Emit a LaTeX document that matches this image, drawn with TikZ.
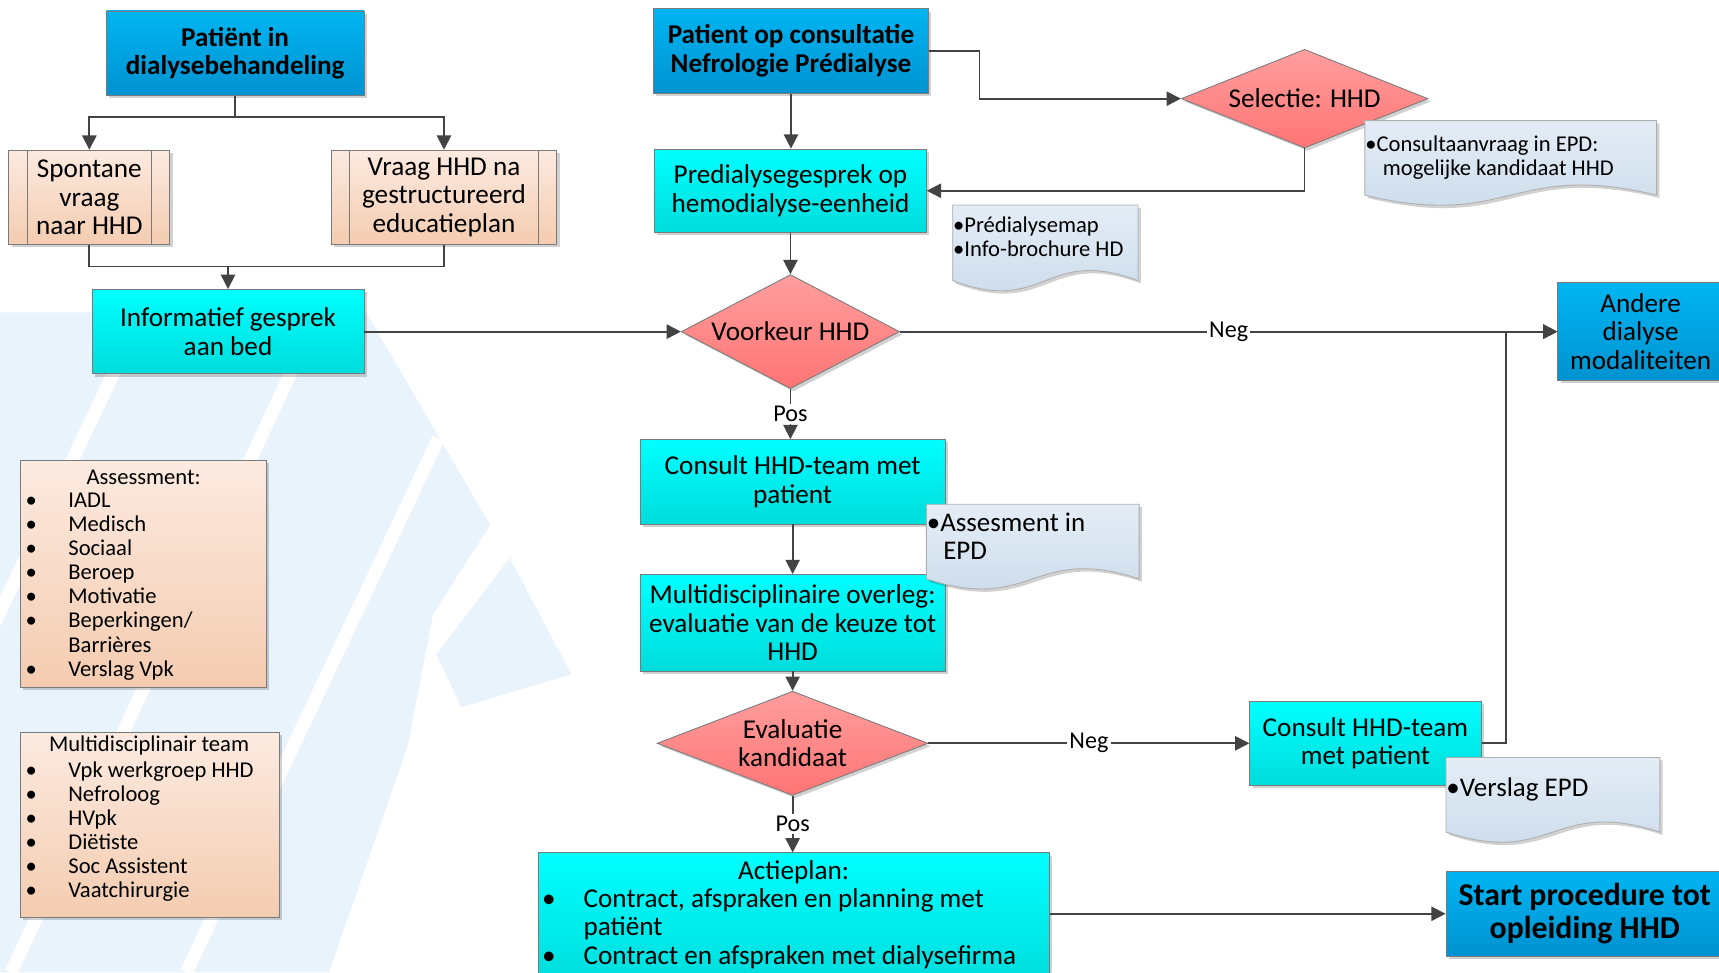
\documentclass[tikz,border=0pt]{standalone}
\usepackage{fontspec}
\setmainfont{Carlito}
\usetikzlibrary{arrows.meta,shapes.geometric,shadows}
\definecolor{bluetop}{HTML}{00B5F2}
\definecolor{bluebot}{HTML}{0092D0}
\definecolor{cyantop}{HTML}{00FFFF}
\definecolor{cyanbot}{HTML}{00DCDC}
\definecolor{peachtop}{HTML}{FCEAE0}
\definecolor{peachbot}{HTML}{F4CCB0}
\definecolor{redtop}{HTML}{FF9E9E}
\definecolor{redbot}{HTML}{FF7474}
\definecolor{doctop}{HTML}{E4EDF6}
\definecolor{docbot}{HTML}{C8D9EA}
\definecolor{edgecol}{HTML}{7A7A7A}
\definecolor{conncol}{HTML}{434343}
\definecolor{wm}{HTML}{E8F3FB}
\tikzset{
  sz/.style 2 args={minimum width=#1*0.5pt, minimum height=#2*0.5pt},
  shad/.style={drop shadow={shadow xshift=1.3pt, shadow yshift=-1.3pt, fill=black, opacity=0.18}},
  basebox/.style={draw=edgecol, line width=0.4pt, inner sep=0pt, align=center, shad},
  bluebox/.style={basebox, rectangle, top color=bluetop, bottom color=bluebot, font=\fontsize{12.4}{13}\selectfont\bfseries},
  cyanbox/.style={basebox, rectangle, top color=cyantop, bottom color=cyanbot, font=\fontsize{12.4}{13}\selectfont},
  peachbox/.style={basebox, rectangle, top color=peachtop, bottom color=peachbot, font=\fontsize{12.4}{13}\selectfont},
  decision/.style={basebox, diamond, top color=redtop, bottom color=redbot},
  dlabel/.style={font=\fontsize{12.4}{13}\selectfont, align=center, inner sep=0pt},
  docstyle/.style={draw=edgecol!60, line width=0.4pt, top color=doctop, bottom color=docbot, shad},
  conn/.style={draw=conncol, line width=0.8pt},
  arr/.style={conn, -{Triangle[length=6.5pt,width=6.5pt]}},
  lbl/.style={fill=white, inner sep=1pt, font=\fontsize{11}{12}\selectfont},
  smalltxt/.style={inner sep=0pt, font=\fontsize{10.3}{11}\selectfont},
  bigtxt/.style={inner sep=0pt, font=\fontsize{12.3}{13}\selectfont},
}
\newcommand{\docshape}[5]{\path[docstyle] (#1,#2) -- (#3,#2) -- (#3,#4) .. controls ({(#1+#3)/2},{#4-2*#5}) and ({(#1+#3)/2},{#4+2*#5}) .. (#1,#4) -- cycle;}
\begin{document}
\begin{tikzpicture}[x=0.5pt,y=-0.5pt]
\useasboundingbox (0,0) rectangle (1568,887);
\fill[white] (0,0) rectangle (1568,887);
% watermark
\fill[wm] (0,285) -- (334,285) -- (447,479) -- (395,560) -- (372,680) -- (300,887) -- (0,887) -- cycle;
\draw[white, line width=6pt] (-20,600) -- (130,285);
\draw[white, line width=6pt] (10,887) -- (270,330);
\draw[white, line width=6pt] (170,887) -- (400,400);
\fill[wm] (465,509) -- (521,615) -- (421,645) -- (398,597) -- cycle;

% left column
\node[bluebox, sz={235}{77}] (pat) at (214.5,48.5) {Patiënt in\\dialysebehandeling};
\node[peachbox, sz={147}{86}] (spon) at (81.5,180) {Spontane\\vraag\\naar HHD};
\node[peachbox, sz={206}{86}] (vraag) at (405,180) {Vraag HHD na\\gestructureerd\\educatieplan};
\draw[edgecol, line width=0.4pt] ([xshift=8.5pt]spon.north west) -- ([xshift=8.5pt]spon.south west);
\draw[edgecol, line width=0.4pt] ([xshift=-8.5pt]spon.north east) -- ([xshift=-8.5pt]spon.south east);
\draw[edgecol, line width=0.4pt] ([xshift=8.5pt]vraag.north west) -- ([xshift=8.5pt]vraag.south west);
\draw[edgecol, line width=0.4pt] ([xshift=-8.5pt]vraag.north east) -- ([xshift=-8.5pt]vraag.south east);
\node[cyanbox, sz={248}{77}] (info) at (208,302.5) {Informatief gesprek\\aan bed};

\node[peachbox, sz={224.5}{207}] (assess) at (130.75,523.5) {};
\node[smalltxt] (assessT) at (131,435) {Assessment:};
\node[smalltxt, anchor=north west] (assessL) at (23,447) {\begin{tabular}{@{}p{19.5pt}@{}l@{}}
•&IADL\\ •&Medisch\\ •&Sociaal\\ •&Beroep\\ •&Motivatie\\ •&Beperkingen/\\ &Barrières\\ •&Verslag Vpk
\end{tabular}};
\node[peachbox, sz={236.5}{169}] (mteam) at (136.75,752.5) {};
\node[smalltxt] (mteamT) at (136,680) {Multidisciplinair team};
\node[smalltxt, anchor=north west] (mteamL) at (23,693) {\begin{tabular}{@{}p{19.5pt}@{}l@{}}
•&Vpk werkgroep HHD\\ •&Nefroloog\\ •&HVpk\\ •&Diëtiste\\ •&Soc Assistent\\ •&Vaatchirurgie
\end{tabular}};

% middle column
\node[bluebox, sz={251}{77}] (pop) at (721.5,46.5) {Patient op consultatie\\Nefrologie Prédialyse};
\node[cyanbox, sz={248}{76}] (pred) at (721,174) {Predialysegesprek op\\hemodialyse-eenheid};
\node[decision, sz={199}{104}, label={[dlabel]center:Voorkeur HHD}] (voor) at (721,302.5) {};
\node[cyanbox, sz={278}{77}] (cons1) at (723,439.5) {Consult HHD-team met\\patient};
\node[cyanbox, sz={278}{88}] (multi) at (723,568) {Multidisciplinaire overleg:\\evaluatie van de keuze tot\\HHD};
\node[decision, sz={247}{95}, label={[dlabel]center:Evaluatie\\kandidaat}] (eval) at (723,678) {};
\node[cyanbox, sz={466}{122}] (act) at (724,839) {};
\node[inner sep=0pt, font=\fontsize{12.4}{13}\selectfont] (actT) at (724,796) {Actieplan:};
\node[inner sep=0pt, anchor=north west, font=\fontsize{12.4}{13}\selectfont] (actL) at (494,809) {\begin{tabular}{@{}p{19pt}@{}l@{}}
•&Contract, afspraken en planning met\\ &patiënt\\ •&Contract en afspraken met dialysefirma
\end{tabular}};

% right column
\node[decision, sz={225}{90}, label={[dlabel]center:Selectie: HHD}] (sel) at (1190,90) {};
\node[bluebox, font=\fontsize{12.4}{13}\selectfont, sz={151}{89}] (andere) at (1496.5,302.5) {Andere\\dialyse\\modaliteiten};
\node[cyanbox, sz={211}{77}] (cons2) at (1245.5,678) {Consult HHD-team\\met patient};
\node[bluebox, font=\fontsize{14.5}{15}\selectfont\bfseries, sz={253}{77}] (start) at (1445.5,833.5) {Start procedure tot\\opleiding HHD};

% connectors
\coordinate (j1) at (214.5,107);
\coordinate (j2) at (208,243);
\draw[arr] (pat.south) -- (j1) -| (spon.north);
\draw[arr] (j1) -| (vraag.north);
\draw[conn] (spon.south) |- (j2) -| (vraag.south);
\draw[arr] (j2) -- (info.north);
\draw[arr] (info.east) -- (voor.west);
\draw[arr] (pop.south) -- (pop.south |- pred.north);
\draw[arr] (pop.east) -- ++(46,0) |- (sel.west);
\draw[arr] (sel.south) |- (pred.east);
\draw[arr] (pred.south) -- (pred.south |- voor.north);
\draw[arr] (voor.east) -- node[lbl] {Neg} (andere.west);
\draw[arr] (voor.south) -- node[lbl] {Pos} (voor.south |- cons1.north);
\draw[arr] (cons1.south) -- (multi.north);
\draw[arr] (multi.south) -- (eval.north);
\draw[arr] (eval.east) -- node[lbl] {Neg} (cons2.west);
\draw[arr] (eval.south) -- node[lbl] {Pos} (eval.south |- act.north);
\draw[arr] (cons2.east) -- ++(22,0) |- (andere.west);
\draw[arr] (act.east |- start.west) -- (start.west);

% documents
\docshape{1245}{110}{1511}{178}{16}
\node[smalltxt, anchor=west, align=left] (d1t) at (1245,144) {•Consultaanvraag in EPD:\\\hspace*{8pt}mogelijke kandidaat HHD};
\docshape{869}{187}{1038}{256}{16}
\node[smalltxt, anchor=west, align=left] (d2t) at (869,216) {•Prédialysemap\\•Info-brochure HD};
\docshape{845}{460}{1039}{528}{16}
\node[bigtxt, anchor=west, align=left] (d3t) at (845,489) {•Assesment in\\\hspace*{7.5pt}EPD};
\docshape{1319}{691}{1514}{759}{16}
\node[bigtxt, anchor=west, align=left] (d4t) at (1319,720) {•Verslag EPD};
\end{tikzpicture}
\end{document}
